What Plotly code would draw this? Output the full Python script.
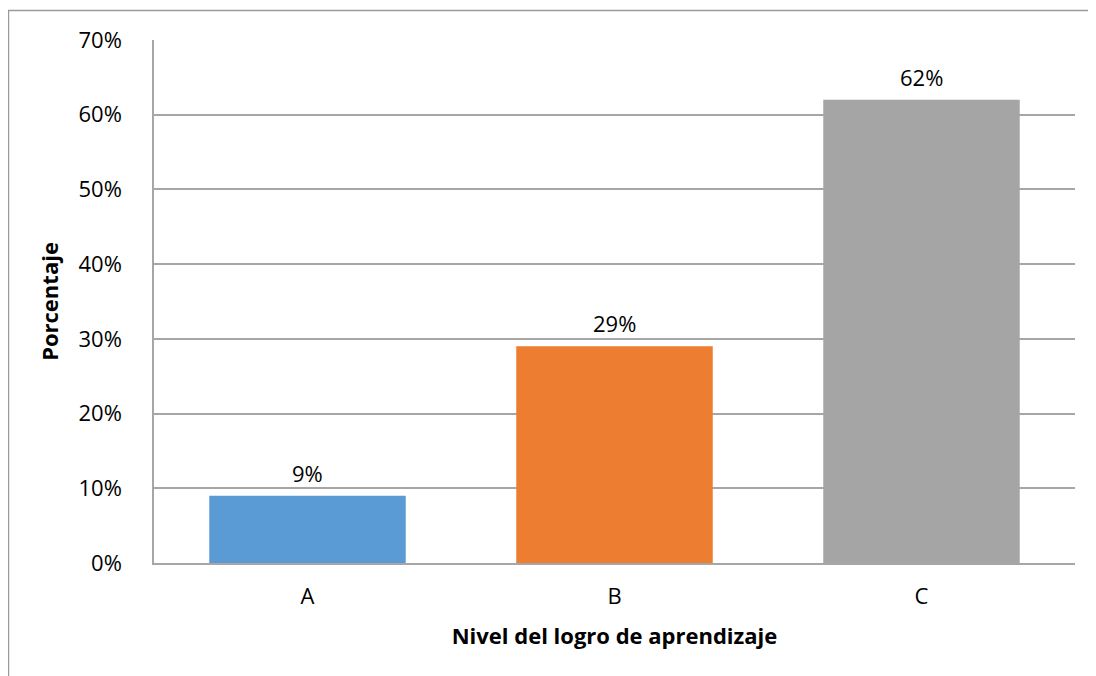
import plotly.graph_objects as go

categories = ["A", "B", "C"]
values = [0.09, 0.29, 0.62]
labels = ["9%", "29%", "62%"]
colors = ["#5b9bd5", "#ed7d31", "#a5a5a5"]
tick_vals = [0, 0.1, 0.2, 0.3, 0.4, 0.5, 0.6, 0.7]
tick_text = ["0%", "10%", "20%", "30%", "40%", "50%", "60%", "70%"]

FONT = "Open Sans"

fig = go.Figure(
    go.Bar(
        x=categories,
        y=values,
        marker=dict(color=colors, line=dict(width=0)),
        width=0.64,
    )
)

for c, v, t in zip(categories, values, labels):
    fig.add_annotation(
        x=c, y=v, text=t, showarrow=False,
        xanchor="center", yanchor="bottom", yshift=6,
        font=dict(family=FONT, size=22, color="#000000"),
    )

fig.update_layout(
    width=1088,
    height=668,
    margin=dict(l=146, r=21, t=32, b=113),
    paper_bgcolor="white",
    plot_bgcolor="white",
    showlegend=False,
    font=dict(family=FONT, size=22, color="#000000"),
    xaxis=dict(
        showgrid=False,
        showline=True,
        linecolor="#a6a6a6",
        linewidth=1.5,
        ticks="",
        ticklabelstandoff=13,
        tickfont=dict(family=FONT, size=22),
        title=dict(
            text="<b>Nivel del logro de aprendizaje</b>",
            font=dict(family=FONT, size=22),
            standoff=19,
        ),
    ),
    yaxis=dict(
        range=[0, 0.7],
        tickvals=tick_vals,
        ticktext=tick_text,
        showgrid=True,
        gridcolor="#a6a6a6",
        gridwidth=1.5,
        showline=True,
        linecolor="#a6a6a6",
        linewidth=1.5,
        zeroline=False,
        ticks="",
        ticklabelstandoff=26,
        tickfont=dict(family=FONT, size=22),
        title=dict(
            text="<b>Porcentaje</b>",
            font=dict(family=FONT, size=22),
            standoff=14,
        ),
    ),
    shapes=[
        dict(
            type="rect",
            xref="paper",
            yref="paper",
            x0=-0.158,
            x1=1.2,
            y0=-0.4,
            y1=1.0564,
            line=dict(color="#9a9a9a", width=1.5),
            fillcolor="rgba(0,0,0,0)",
            layer="below",
        )
    ],
)

fig.write_html("out.html")
